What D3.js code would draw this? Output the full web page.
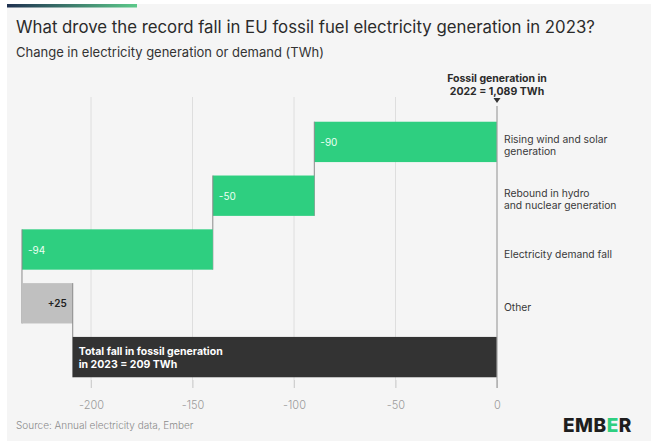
<!DOCTYPE html>
<html><head><meta charset="utf-8">
<script src="https://cdn.jsdelivr.net/npm/d3@7"></script>
<style>body{margin:0;background:#fff;}svg{display:block;font-family:Inter,"Noto Sans",sans-serif;}</style>
</head><body><svg id="c" width="657" height="442"></svg>
<script>
const categories = ["wind", "hydro", "demand", "other", "total"];
const categoryLabels = [["Rising wind and solar", "generation"], ["Rebound in hydro", "and nuclear generation"], ["Electricity demand fall"], ["Other"], []];
const values = [-90, -50, -94, 25];
const valueLabels = ["-90", "-50", "-94", "+25"];
const totalValue = -209;
const totalLabel = ["Total fall in fossil generation", "in 2023 = 209 TWh"];
const tickValues = [-200, -150, -100, -50, 0];

const svg = d3.select("#c");
// panel
svg.append("rect").attr("x", 7).attr("y", 4).attr("width", 644).attr("height", 437).attr("fill", "#f5f5f5");
const grad = svg.append("defs").append("linearGradient").attr("id", "g");
grad.append("stop").attr("offset", "0").attr("stop-color", "#1f3150");
grad.append("stop").attr("offset", "1").attr("stop-color", "#5cc98a");
svg.append("rect").attr("x", 7).attr("y", 4).attr("width", 130).attr("height", 3.5).attr("fill", "url(#g)");

svg.append("text").attr("x", 16).attr("y", 33).attr("font-size", 16.8).attr("fill", "#2b2b2b")
  .text("What drove the record fall in EU fossil fuel electricity generation in 2023?");
svg.append("text").attr("x", 16).attr("y", 57).attr("font-size", 13).attr("fill", "#333")
  .text("Change in electricity generation or demand (TWh)");

const x = d3.scaleLinear().domain([-200, 0]).range([91, 497]);
const y = d3.scaleBand().domain(categories).range([115, 384]).paddingInner(0.25).paddingOuter(0.125);

// grid
svg.append("g").selectAll("line").data(tickValues.filter(d => d !== 0)).join("line")
  .attr("x1", d => x(d)).attr("x2", d => x(d)).attr("y1", 97).attr("y2", 388)
  .attr("stroke", "#dedede").attr("stroke-width", 1);

// axis
const axis = svg.append("g").attr("transform", "translate(0,380)")
  .call(d3.axisBottom(x).tickValues(tickValues).tickSize(8).tickSizeOuter(0).tickFormat(d => String(d)).tickPadding(13));
axis.select(".domain").remove();
axis.selectAll(".tick line").attr("stroke", "#d0d0d0");
axis.selectAll(".tick text").attr("fill", "#9a9a9a").attr("font-size", 11).attr("font-family", "Inter,sans-serif").attr("font-weight", 300);

// bars
let cum = 0;
const bars = values.map((v, i) => { const s = cum; cum += v; return {cat: categories[i], start: s, end: cum, v, label: valueLabels[i]}; });
const g = svg.append("g");
bars.forEach((b, i) => {
  const x0 = x(Math.min(b.start, b.end)), x1 = x(Math.max(b.start, b.end));
  g.append("rect").attr("x", x0).attr("y", y(b.cat)).attr("width", x1 - x0).attr("height", y.bandwidth())
    .attr("fill", b.v < 0 ? "#2ecf80" : "#c0c0c0");
  if (b.v < 0) {
    g.append("text").attr("x", x0 + 6).attr("y", y(b.cat) + y.bandwidth() / 2 + 4).attr("font-size", 10)
      .attr("fill", "#eafff2").text(b.label);
  } else {
    g.append("text").attr("x", x1 - 6).attr("y", y(b.cat) + y.bandwidth() / 2 + 4).attr("font-size", 10)
      .attr("font-weight", 600).attr("text-anchor", "end").attr("fill", "#222").text(b.label);
  }
  // connector
  const nextCat = categories[i + 1];
  g.append("line").attr("x1", x(b.end)).attr("x2", x(b.end))
    .attr("y1", y(b.cat)).attr("y2", y(nextCat) + y.bandwidth())
    .attr("stroke", "#8a8a8a").attr("stroke-width", 1);
});
// total bar
g.append("rect").attr("x", x(totalValue)).attr("y", y("total")).attr("width", x(0) - x(totalValue)).attr("height", y.bandwidth())
  .attr("fill", "#333333");
totalLabel.forEach((t, i) => g.append("text").attr("x", x(totalValue) + 6).attr("y", y("total") + 18 + i * 13)
  .attr("font-size", 10.5).attr("font-weight", 700).attr("fill", "#fff").text(t));

// zero line
svg.append("line").attr("x1", x(0)).attr("x2", x(0)).attr("y1", 106).attr("y2", 388).attr("stroke", "#a0a0a0").attr("stroke-width", 1.2);
svg.append("path").attr("d", `M${x(0) - 3.5},98 L${x(0) + 3.5},98 L${x(0)},103 Z`).attr("fill", "#333");
["Fossil generation in", "2022 = 1,089 TWh"].forEach((t, i) => svg.append("text").attr("x", x(0)).attr("y", 82 + i * 12.5)
  .attr("text-anchor", "middle").attr("font-size", 10.5).attr("font-weight", 700).attr("fill", "#2b2b2b").text(t));

// category labels
categoryLabels.forEach((lines, i) => {
  const cy = y(categories[i]) + y.bandwidth() / 2;
  lines.forEach((t, j) => svg.append("text").attr("x", 504).attr("y", cy + 8 - (lines.length - 1) * 7 + j * 12)
    .attr("font-size", 10.3).attr("fill", "#3a3a3a").text(t));
});

svg.append("text").attr("x", 16).attr("y", 429).attr("font-size", 10).attr("fill", "#8a8a8a").attr("font-weight", 300)
  .text("Source: Annual electricity data, Ember");

// logo
const logo = svg.append("text").attr("x", 563).attr("y", 432).attr("font-size", 19).attr("font-weight", 800).attr("fill", "#1e1e1e").attr("letter-spacing", 0.5);
logo.append("tspan").text("EMB");
logo.append("tspan").attr("fill", "#2ecf80").text("E");
logo.append("tspan").text("R");
</script></body></html>
